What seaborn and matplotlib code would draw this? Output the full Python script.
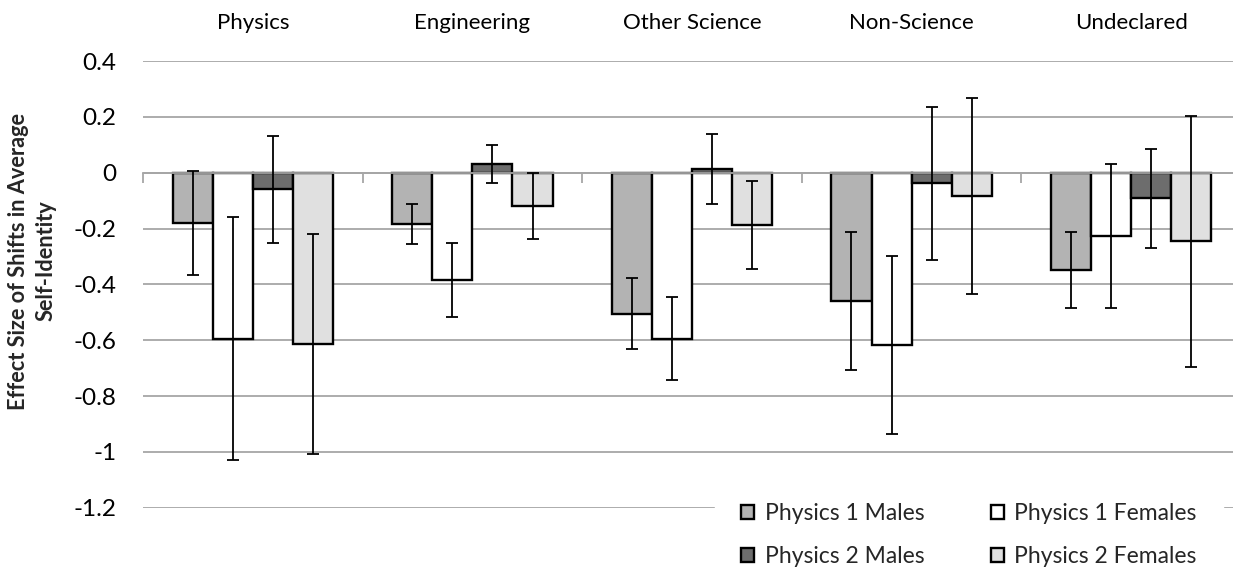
import matplotlib
matplotlib.use("Agg")
import matplotlib.pyplot as plt
import seaborn as sns
import pandas as pd
import numpy as np
from matplotlib.patches import Patch

# Disciplines (x categories) and student groups (series)
majors = ["Physics", "Engineering", "Other Science", "Non-Science", "Undeclared"]
groups = ["Physics 1 Males", "Physics 1 Females", "Physics 2 Males", "Physics 2 Females"]

# Effect sizes per group, in the order of `majors`
p1_males = [-0.18, -0.185, -0.505, -0.46, -0.35]
p1_females = [-0.595, -0.383, -0.594, -0.617, -0.226]
p2_males = [-0.059, 0.031, 0.012, -0.038, -0.091]
p2_females = [-0.614, -0.12, -0.188, -0.083, -0.246]

# Error-bar half widths
p1_males_err = [0.187, 0.072, 0.127, 0.247, 0.136]
p1_females_err = [0.435, 0.132, 0.15, 0.319, 0.257]
p2_males_err = [0.191, 0.068, 0.125, 0.273, 0.177]
p2_females_err = [0.394, 0.119, 0.157, 0.35, 0.449]

yticks = [0.4, 0.2, 0, -0.2, -0.4, -0.6, -0.8, -1, -1.2]
ytick_labels = ["0.4", "0.2", "0", "-0.2", "-0.4", "-0.6", "-0.8", "-1", "-1.2"]

values = [p1_males, p1_females, p2_males, p2_females]
errors = [p1_males_err, p1_females_err, p2_males_err, p2_females_err]

df = pd.DataFrame({
    "major": np.tile(majors, len(groups)),
    "group": np.repeat(groups, len(majors)),
    "effect": np.concatenate(values),
})

colors = ["#b3b3b3", "#ffffff", "#6d6d6d", "#e0e0e0"]
palette = dict(zip(groups, colors))

sns.set_theme(style="white")
plt.rcParams["font.family"] = ["Lato", "DejaVu Sans"]

fig = plt.figure(figsize=(12.33, 5.73), dpi=100)
ax = fig.add_axes([143 / 1233, 65.2 / 573, 1098 / 1233, 446.8 / 573])

sns.barplot(data=df, x="major", y="effect", hue="group", order=majors,
            hue_order=groups, palette=palette, width=0.73, errorbar=None,
            edgecolor="black", linewidth=1.7, saturation=1, legend=False,
            ax=ax, zorder=2)

# Error bars centred on each seaborn bar
for cont, vals, errs in zip(ax.containers, values, errors):
    xs = [b.get_x() + b.get_width() / 2 for b in cont]
    ax.errorbar(xs, vals, yerr=errs, fmt="none", ecolor="black",
                elinewidth=1.3, capsize=4.4, capthick=1.3, zorder=5)

ax.set_ylim(-1.2, 0.4)
ax.set_xlim(-0.5, 4.5)
ax.set_yticks(yticks)
ax.set_yticklabels(ytick_labels)
ax.yaxis.grid(True, color="#a6a6a6", linewidth=1.3, zorder=0)
ax.set_axisbelow(True)
ax.tick_params(axis="y", length=0, pad=19, labelsize=17.5, labelcolor="black")

# Category labels along the top, boundary ticks on the zero line
ax.set_xticks(range(len(majors)))
ax.set_xticklabels(majors)
ax.set_xticks(np.arange(-0.5, 5.0, 1.0), minor=True)
ax.tick_params(axis="x", which="major", bottom=False, top=False,
               labelbottom=False, labeltop=True, labelsize=16, pad=14,
               labelcolor="black")
ax.tick_params(axis="x", which="minor", bottom=True, top=False,
               direction="out", length=7, width=1.3, color="#a6a6a6")
ax.set_xlabel("")
ax.set_ylabel("")

for side in ["top", "right", "left"]:
    ax.spines[side].set_visible(False)
ax.spines["bottom"].set_position(("data", 0))
ax.spines["bottom"].set_color("#a6a6a6")
ax.spines["bottom"].set_linewidth(1.3)
ax.spines["bottom"].set_zorder(4)

fig.text(32 / 1233, 1 - 261 / 573,
         "Effect Size of Shifts in Average\nSelf-Identity",
         rotation=90, ha="center", va="center", fontsize=15.7,
         fontweight="bold", linespacing=1.4)

# Legend laid out row by row: Physics 1 on top, Physics 2 below
handles = {g: Patch(facecolor=c, edgecolor="black", linewidth=1.7)
           for g, c in zip(groups, colors)}
leg_order = ["Physics 1 Males", "Physics 2 Males",
             "Physics 1 Females", "Physics 2 Females"]
leg = fig.legend([handles[g] for g in leg_order], leg_order, ncol=2,
                 loc="upper left",
                 bbox_to_anchor=(715 / 1233, 1 - 477 / 573),
                 frameon=True, facecolor="white", edgecolor="white",
                 framealpha=1, fontsize=16.5, handlelength=0.57,
                 handleheight=0.57, handletextpad=0.45, columnspacing=2.9,
                 labelspacing=0.95, borderpad=1.15, borderaxespad=0)
leg.set_zorder(10)

fig.savefig("out.png", dpi=100)
